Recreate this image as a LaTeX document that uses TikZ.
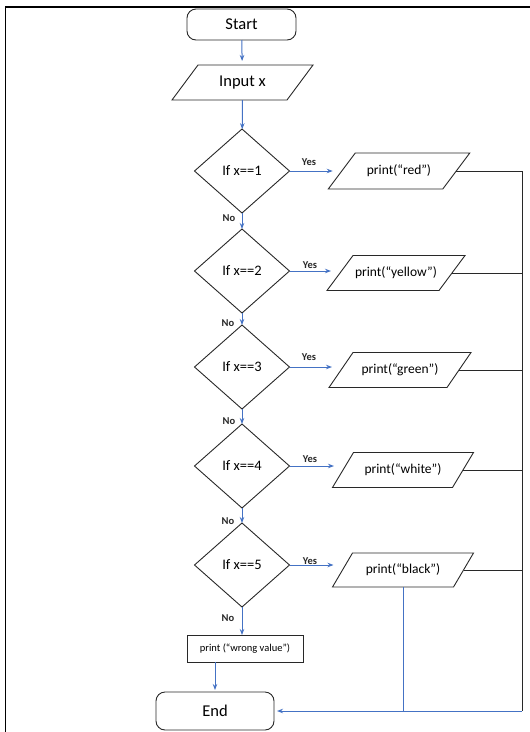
\documentclass[tikz,border=0pt]{standalone}
\usepackage{fontspec}
\setmainfont{Carlito}
\usetikzlibrary{shapes.geometric,arrows.meta}
\definecolor{arrowblue}{RGB}{68,114,196}
\definecolor{ink}{RGB}{40,40,40}
\newcommand\pgram[2]{\draw[pline] ([xshift=#2]#1.north west) -- ([xshift=#2]#1.north east) -- ([xshift=-#2]#1.south east) -- ([xshift=-#2]#1.south west) -- cycle;}
\begin{document}
\begin{tikzpicture}[x=1pt,y=-1pt,
 every node/.style={inner sep=0pt, outer sep=0pt},
 term/.style={draw=ink, rounded corners=9pt, line width=0.9pt, font=\fontsize{16.5}{18}\selectfont},
 dec/.style={draw=ink, diamond, minimum width=95pt, minimum height=84pt, line width=0.9pt, font=\fontsize{14.5}{16}\selectfont},
 io/.style={font=\fontsize{13.5}{15}\selectfont},
 iobig/.style={font=\fontsize{16.5}{18}\selectfont},
 pline/.style={draw=ink, line width=0.9pt},
 proc/.style={draw=ink, line width=0.9pt, font=\fontsize{10.5}{12}\selectfont},
 flow/.style={draw=arrowblue, line width=1pt, -{Stealth[length=6pt,width=4.5pt]}},
 bluel/.style={draw=arrowblue, line width=1pt},
 bus/.style={draw=ink, line width=0.9pt},
 lab/.style={font=\bfseries\fontsize{10.5}{12}\selectfont, text=ink},
]
\useasboundingbox (0,0) rectangle (530,732);
\draw[line width=1.8pt, black] (530,7) -- (5.5,7) -- (5.5,732);

% terminals and inputs
\node[term, minimum width=109pt, minimum height=31pt] (start) at (241.5,24.5) {Start};
\node[iobig, minimum width=115pt, minimum height=35pt] (input) at (242.5,82.5) {Input x};
\pgram{input}{13pt}

% decisions
\node[dec] (d1) at (242,171) {If x==1};
\node[dec] (d2) at (242,271) {If x==2};
\node[dec] (d3) at (242,367) {If x==3};
\node[dec] (d4) at (242,466) {If x==4};
\node[dec] (d5) at (242,565) {If x==5};

% outputs
\node[io, minimum width=114.5pt, minimum height=36pt] (p1) at (399,171) {print(“red”)};
\pgram{p1}{13.5pt}
\node[io, minimum width=112pt, minimum height=35pt] (p2) at (396,273) {print(“yellow”)};
\pgram{p2}{13pt}
\node[io, minimum width=118pt, minimum height=35pt] (p3) at (400,370) {print(“green”)};
\pgram{p3}{12pt}
\node[io, minimum width=120pt, minimum height=35pt] (p4) at (403,470) {print(“white”)};
\pgram{p4}{10.5pt}
\node[io, minimum width=121pt, minimum height=34pt] (p5) at (403,570) {print(“black”)};
\pgram{p5}{10pt}

\node[proc, minimum width=116pt, minimum height=27pt] (wrong) at (245,648.5) {print (“wrong value”)};
\node[term, minimum width=118pt, minimum height=38pt] (end) at (215,711) {End};

% main flow
\draw[flow, shorten >=4pt] (start) -- (input);
\draw[flow] (input) -- (d1);
\draw[flow] (d1) -- (d2);
\draw[flow] (d2) -- (d3);
\draw[flow] (d3) -- (d4);
\draw[flow] (d4) -- (d5);
\draw[flow] (d5.south) -- (d5.south |- wrong.north);
\draw[flow, shorten >=2pt] (wrong.south -| end.north) -- (end.north);

% yes branches
\foreach \i in {1,...,5}{
  \draw[flow, shorten >=9pt] (d\i.east) -- (d\i.east -| p\i.west);
}

% labels
\node[lab] (y1) at (309,162) {Yes};
\node[lab] (y2) at (310,265) {Yes};
\node[lab] (y3) at (309,357) {Yes};
\node[lab] (y4) at (310,459) {Yes};
\node[lab] (y5) at (310,561) {Yes};
\node[lab] (n1) at (229,218) {No};
\node[lab] (n2) at (228,323) {No};
\node[lab] (n3) at (229,421) {No};
\node[lab] (n4) at (228,521) {No};
\node[lab] (n5) at (228,618) {No};

% collecting bus
\coordinate (bus) at (522,0);
\foreach \i in {1,...,5}{
  \draw[bus] (p\i.east) -- (p\i.east -| bus);
}
\draw[bus] (p1.east -| bus) -- (end.east -| bus);
\draw[bluel] (p5.south) -- (p5.south |- end.east);
\draw[flow, shorten >=3pt] (end.east -| bus) -- (end.east);
\end{tikzpicture}
\end{document}
